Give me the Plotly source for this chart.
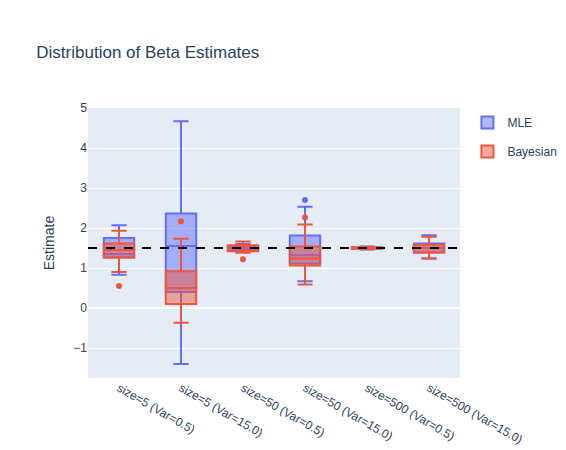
import plotly.graph_objects as go

cats = ["size=5 (Var=0.5)", "size=5 (Var=15.0)", "size=50 (Var=0.5)",
        "size=50 (Var=15.0)", "size=500 (Var=0.5)", "size=500 (Var=15.0)"]

# MLE box stats
mle_low = [0.83, -1.40, 1.40, 0.67, 1.46, 1.24]
mle_q1 = [1.26, 0.40, 1.45, 1.11, 1.48, 1.39]
mle_med = [1.35, 1.55, 1.50, 1.32, 1.50, 1.50]
mle_q3 = [1.75, 2.36, 1.55, 1.81, 1.52, 1.61]
mle_high = [2.07, 4.67, 1.60, 2.53, 1.54, 1.82]
mle_out_x = ["size=50 (Var=15.0)"]
mle_out_y = [2.70]

# Bayesian box stats
bay_low = [0.90, -0.37, 1.38, 0.59, 1.47, 1.24]
bay_q1 = [1.26, 0.10, 1.42, 1.06, 1.48, 1.39]
bay_med = [1.45, 0.50, 1.50, 1.24, 1.50, 1.50]
bay_q3 = [1.61, 0.92, 1.57, 1.54, 1.52, 1.58]
bay_high = [1.93, 1.73, 1.66, 2.09, 1.53, 1.78]
bay_out_x = ["size=5 (Var=0.5)", "size=5 (Var=15.0)", "size=50 (Var=0.5)", "size=50 (Var=15.0)"]
bay_out_y = [0.55, 2.17, 1.22, 2.26]

true_beta = 1.5

blue, red = "#636efa", "#EF553B"

fig = go.Figure()
fig.add_trace(go.Box(name="MLE", x=cats, q1=mle_q1, median=mle_med, q3=mle_q3,
                     lowerfence=mle_low, upperfence=mle_high,
                     marker_color=blue, legendgroup="MLE"))
fig.add_trace(go.Scatter(x=mle_out_x, y=mle_out_y, mode="markers", marker=dict(color=blue, size=6),
                         legendgroup="MLE", showlegend=False, hoverinfo="skip"))
fig.add_trace(go.Box(name="Bayesian", x=cats, q1=bay_q1, median=bay_med, q3=bay_q3,
                     lowerfence=bay_low, upperfence=bay_high,
                     marker_color=red, legendgroup="Bayesian"))
fig.add_trace(go.Scatter(x=bay_out_x, y=bay_out_y, mode="markers", marker=dict(color=red, size=6),
                         legendgroup="Bayesian", showlegend=False, hoverinfo="skip"))

fig.add_shape(type="line", xref="paper", x0=0, x1=1, y0=true_beta, y1=true_beta,
              line=dict(color="black", dash="dash", width=2))

fig.update_layout(
    width=566, height=450,
    font_family="Liberation Sans, Arial, sans-serif",
    title="Distribution of Beta Estimates",
    yaxis_title="Estimate",
    yaxis=dict(range=[-1.75, 5.0]),
    boxmode="overlay",
)

fig.write_html("out.html")
